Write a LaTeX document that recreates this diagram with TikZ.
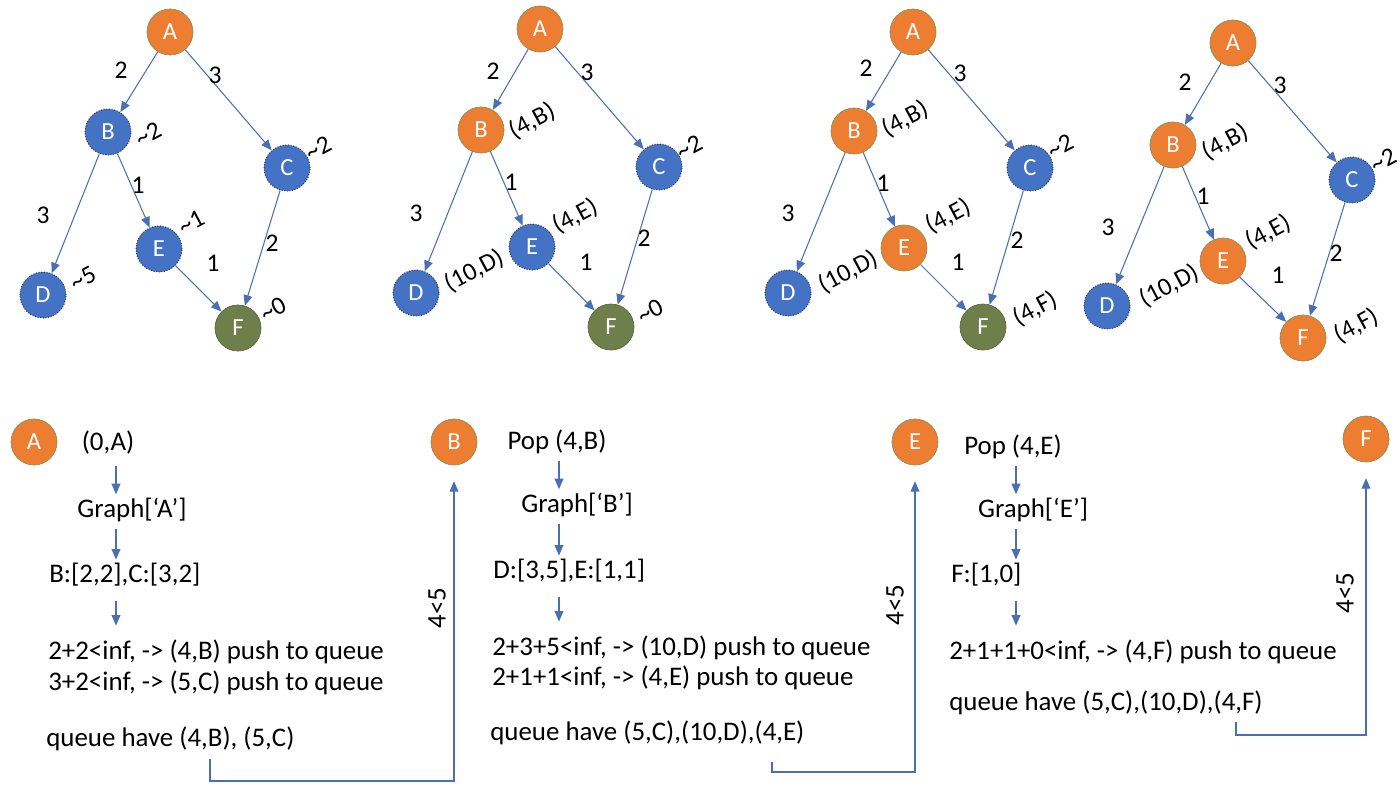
\documentclass[tikz,border=0pt]{standalone}
\usepackage{fontspec}
\setmainfont{Carlito}
\usetikzlibrary{arrows.meta}
\definecolor{org}{HTML}{ED7D31}
\definecolor{orgline}{HTML}{8C8F55}
\definecolor{blu}{HTML}{4472C4}
\definecolor{grn}{HTML}{6E7F4B}
\definecolor{edgec}{HTML}{4A6FB5}
\begin{document}
\begin{tikzpicture}[x=0.02cm,y=-0.02cm,
  vtx/.style={circle,minimum size=0.92cm,inner sep=0pt,text=white,font=\fontsize{14}{16}\selectfont},
  on/.style={vtx,fill=org,draw=orgline,line width=0.4pt},
  off/.style={vtx,fill=blu,draw=black!85,densely dotted,line width=0.5pt},
  fin/.style={vtx,fill=grn,draw=grn!80!black,line width=0.4pt},
  e/.style={draw=edgec,line width=0.6pt,-{Triangle[length=6pt,width=5pt]}},
  flow/.style={draw=edgec,line width=0.7pt,-{Triangle[length=6pt,width=5pt]}},
  w/.style={font=\fontsize{14.5}{16}\selectfont,inner sep=0pt},
  tag/.style={font=\fontsize{14.5}{16}\selectfont,inner sep=0pt,rotate=28},
  txt/.style={font=\fontsize{15.3}{18}\selectfont,inner sep=0pt},
  lt/.style={txt,anchor=west}]
\useasboundingbox (0,0) rectangle (1400,792);

% ---------- Panel 1 ----------
\node[on]  (A1) at (170,32) {A};
\node[off] (B1) at (108,132) {B};
\node[off] (C1) at (287,168) {C};
\node[off] (E1) at (159,249) {E};
\node[off] (D1) at (43,295) {D};
\node[fin] (F1) at (238,328) {F};
\draw[e] (A1) -- (B1);
\draw[e] (A1) -- (C1);
\draw[e] (B1) -- (D1);
\draw[e] (B1) -- (E1);
\draw[e] (E1) -- (F1);
\draw[e] (C1) -- (F1);
\node[w] (w1ab) at (121,70) {2};
\node[w] (w1ac) at (215,75) {3};
\node[w] (w1be) at (138,185) {1};
\node[w] (w1bd) at (43,215) {3};
\node[w] (w1ef) at (213,263) {1};
\node[w] (w1cf) at (272,243) {2};
\node[tag] (t1b) at (148,134) {\textasciitilde 2};
\node[tag] (t1c) at (318,148) {\textasciitilde 2};
\node[tag] (t1e) at (191,222) {\textasciitilde 1};
\node[tag] (t1d) at (83,278) {\textasciitilde 5};
\node[tag] (t1f) at (273,309) {\textasciitilde 0};

% ---------- Panel 2 ----------
\node[on]  (A2) at (540,29) {A};
\node[on]  (B2) at (481,130) {B};
\node[off] (C2) at (659,167) {C};
\node[off] (E2) at (532,247) {E};
\node[off] (D2) at (416,293) {D};
\node[fin] (F2) at (611,327) {F};
\draw[e] (A2) -- (B2);
\draw[e] (A2) -- (C2);
\draw[e] (B2) -- (D2);
\draw[e] (B2) -- (E2);
\draw[e] (E2) -- (F2);
\draw[e] (C2) -- (F2);
\node[w] (w2ab) at (493,71) {2};
\node[w] (w2ac) at (587,72) {3};
\node[w] (w2be) at (511,182) {1};
\node[w] (w2bd) at (416,213) {3};
\node[w] (w2ef) at (586,262) {1};
\node[w] (w2cf) at (644,238) {2};
\node[tag] (t2b) at (532,121) {(4,B)};
\node[tag] (t2c) at (689,147) {\textasciitilde 2};
\node[tag] (t2e) at (575,216) {(4,E)};
\node[tag] (t2d) at (474,271) {(10,D)};
\node[tag] (t2f) at (650,311) {\textasciitilde 0};

% ---------- Panel 3 ----------
\node[on]  (A3) at (913,32) {A};
\node[on]  (B3) at (854,131) {B};
\node[off] (C3) at (1030,168) {C};
\node[on]  (E3) at (904,248) {E};
\node[off] (D3) at (788,293) {D};
\node[fin] (F3) at (983,327) {F};
\draw[e] (A3) -- (B3);
\draw[e] (A3) -- (C3);
\draw[e] (B3) -- (D3);
\draw[e] (B3) -- (E3);
\draw[e] (E3) -- (F3);
\draw[e] (C3) -- (F3);
\node[w] (w3ab) at (866,68) {2};
\node[w] (w3ac) at (960,73) {3};
\node[w] (w3be) at (883,183) {1};
\node[w] (w3bd) at (788,213) {3};
\node[w] (w3ef) at (958,262) {1};
\node[w] (w3cf) at (1017,240) {2};
\node[tag] (t3b) at (905,119) {(4,B)};
\node[tag] (t3c) at (1060,146) {\textasciitilde 2};
\node[tag] (t3e) at (948,216) {(4,E)};
\node[tag] (t3d) at (848,272) {(10,D)};
\node[tag] (t3f) at (1035,309) {(4,F)};

% ---------- Panel 4 ----------
\node[on]  (A4) at (1233,43) {A};
\node[on]  (B4) at (1173,145) {B};
\node[off] (C4) at (1352,180) {C};
\node[on]  (E4) at (1223,261) {E};
\node[off] (D4) at (1107,306) {D};
\node[on]  (F4) at (1303,338) {F};
\draw[e] (A4) -- (B4);
\draw[e] (A4) -- (C4);
\draw[e] (B4) -- (D4);
\draw[e] (B4) -- (E4);
\draw[e] (E4) -- (F4);
\draw[e] (C4) -- (F4);
\node[w] (w4ab) at (1185,82) {2};
\node[w] (w4ac) at (1280,85) {3};
\node[w] (w4be) at (1203,196) {1};
\node[w] (w4bd) at (1108,227) {3};
\node[w] (w4ef) at (1278,275) {1};
\node[w] (w4cf) at (1336,253) {2};
\node[tag] (t4b) at (1225,142) {(4,B)};
\node[tag] (t4c) at (1383,160) {\textasciitilde 2};
\node[tag] (t4e) at (1268,232) {(4,E)};
\node[tag] (t4d) at (1169,286) {(10,D)};
\node[tag] (t4f) at (1356,326) {(4,F)};

% ---------- Bottom: step 1 ----------
\node[on] (qA) at (34,442) {A};
\coordinate (c1) at (116,0);
\node[txt] (s11) at (108,443) {(0,A)};
\node[txt] (s12) at (132,510) {Graph[‘A’]};
\node[lt]  (s13) at (49,575) {B:[2,2],C:[3,2]};
\node[lt]  (s14) at (48,652) {2+2<inf, -> (4,B) push to queue};
\node[lt]  (s15) at (48,683) {3+2<inf, -> (5,C) push to queue};
\node[lt]  (s16) at (46,739) {queue have (4,B), (5,C)};
\draw[flow,shorten <=6pt,shorten >=2pt] (s11.south -| c1) -- (s12.north -| c1);
\draw[flow,shorten <=4pt,shorten >=2pt] (s12.south -| c1) -- (s13.north -| c1);
\draw[flow,shorten <=8pt,shorten >=8pt] (s13.south -| c1) -- (s14.north -| c1);

% ---------- Bottom: step 2 ----------
\node[on] (qB) at (454,442) {B};
\coordinate (q1s) at (210,759);
\draw[flow,shorten >=9pt] (q1s) -- ++(0,22) -| (qB.south);
\node[txt,rotate=90] (l1) at (437,608) {4<5};
\coordinate (c2) at (559,0);
\node[txt] (s21) at (557,442) {Pop (4,B)};
\node[txt] (s22) at (577,505) {Graph[‘B’]};
\node[lt]  (s23) at (493,571) {D:[3,5],E:[1,1]};
\node[lt]  (s24) at (492,648) {2+3+5<inf, -> (10,D) push to queue};
\node[lt]  (s25) at (492,678) {2+1+1<inf, -> (4,E) push to queue};
\node[lt]  (s26) at (490,733) {queue have (5,C),(10,D),(4,E)};
\draw[flow,shorten <=4pt,shorten >=2pt] (s21.south -| c2) -- (s22.north -| c2);
\draw[flow,shorten <=4pt,shorten >=2pt] (s22.south -| c2) -- (s23.north -| c2);
\draw[flow,shorten <=8pt,shorten >=8pt] (s23.south -| c2) -- (s24.north -| c2);

% ---------- Bottom: step 3 ----------
\node[on] (qE) at (915,442) {E};
\coordinate (q2s) at (772,762);
\draw[flow,shorten >=9pt] (q2s) -- ++(0,10) -| (qE.south);
\node[txt,rotate=90] (l2) at (895,605) {4<5};
\coordinate (c3) at (1016,0);
\node[txt] (s31) at (1013,447) {Pop (4,E)};
\node[txt] (s32) at (1033,510) {Graph[‘E’]};
\node[lt]  (s33) at (951,575) {F:[1,0]};
\node[lt]  (s34) at (949,652) {2+1+1+0<inf, -> (4,F) push to queue};
\node[lt]  (s35) at (949,703) {queue have (5,C),(10,D),(4,F)};
\draw[flow,shorten <=4pt,shorten >=2pt] (s31.south -| c3) -- (s32.north -| c3);
\draw[flow,shorten <=4pt,shorten >=2pt] (s32.south -| c3) -- (s33.north -| c3);
\draw[flow,shorten <=8pt,shorten >=8pt] (s33.south -| c3) -- (s34.north -| c3);

% ---------- Bottom: step 4 ----------
\node[on] (qF) at (1366,439) {F};
\coordinate (q3s) at (1236,722);
\draw[flow,shorten >=9pt] (q3s) -- ++(0,13) -| (qF.south);
\node[txt,rotate=90] (l3) at (1345,593) {4<5};
\end{tikzpicture}
\end{document}
